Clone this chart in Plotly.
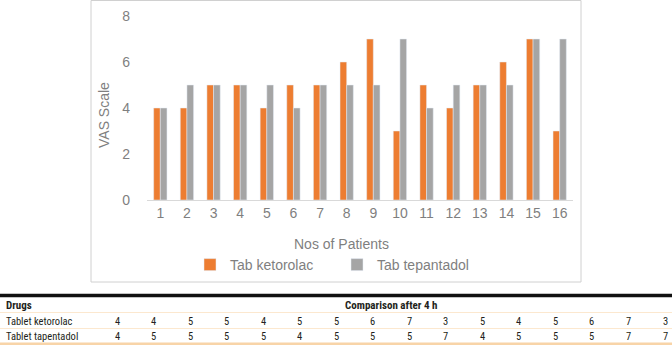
import plotly.graph_objects as go

patients = [str(i) for i in range(1, 17)]
ketorolac = [4, 4, 5, 5, 4, 5, 5, 6, 7, 3, 5, 4, 5, 6, 7, 3]
tapentadol = [4, 5, 5, 5, 5, 4, 5, 5, 5, 7, 4, 5, 5, 5, 7, 7]
series_names = ["Tab ketorolac", "Tab tepantadol"]
row_labels = ["Tablet ketorolac", "Tablet tapentadol"]
table_header = ["Drugs", "Comparison after 4 h"]
x_title = "Nos of Patients"
y_title = "VAS Scale"
y_ticks = [0, 2, 4, 6, 8]

W, H = 672, 345
def px(x):
    return x / W
def py(y):
    return 1 - y / H

ORANGE = "#ED7D31"
GRAY = "#A5A5A5"
TXT = "#7f7f7f"
FONT = "Liberation Sans, Arial, sans-serif"
NARROW = "Liberation Sans Narrow, Roboto Condensed, DejaVu Sans Condensed, sans-serif"
TBL = "#231f20"

fig = go.Figure()
fig.add_trace(go.Bar(x=patients, y=ketorolac, name=series_names[0], marker_color=ORANGE))
fig.add_trace(go.Bar(x=patients, y=tapentadol, name=series_names[1], marker_color=GRAY))

fig.update_layout(
    width=W, height=H,
    margin=dict(l=0, r=0, t=0, b=0, pad=0, autoexpand=False),
    paper_bgcolor="white", plot_bgcolor="white",
    barmode="group", bargap=0.5, bargroupgap=0,
    font=dict(family=FONT, color=TXT, size=14),
    xaxis=dict(domain=[px(147), px(573)], showgrid=False, showline=True, automargin=False,
               linecolor="#d9d9d9", linewidth=1, ticks="", tickfont=dict(size=14, color=TXT),
               anchor="y"),
    yaxis=dict(domain=[py(200), py(16)], range=[0, 8], tickvals=y_ticks, showgrid=False,
               showline=False, zeroline=False, ticks="", tickfont=dict(size=14, color=TXT),
               ticklabelstandoff=16, automargin=False),
    showlegend=True,
    legend=dict(orientation="h", x=px(190), xanchor="left", y=py(265), yanchor="middle",
                font=dict(size=14, color=TXT), itemwidth=30, traceorder="normal",
                entrywidth=102, entrywidthmode="pixels"),
)

# axis titles
fig.add_annotation(text=y_title, x=px(104), y=py(115), xref="paper", yref="paper",
                   xanchor="center", yanchor="middle",
                   textangle=-90, showarrow=False, font=dict(size=14, color=TXT))
fig.add_annotation(text=x_title, x=px(341), y=py(244), xref="paper", yref="paper",
                   xanchor="center", yanchor="middle",
                   showarrow=False, font=dict(size=14, color=TXT))

shapes = []
# chart box border
shapes.append(dict(type="rect", xref="paper", yref="paper", x0=px(91), x1=px(581),
                   y0=py(282), y1=py(0.5), line=dict(color="#d0d0d0", width=1)))
# table lines
shapes.append(dict(type="line", xref="paper", yref="paper", x0=0, x1=1, y0=py(295.5), y1=py(295.5),
                   line=dict(color="#111111", width=3.5)))
shapes.append(dict(type="line", xref="paper", yref="paper", x0=0, x1=1, y0=py(312.5), y1=py(312.5),
                   line=dict(color="#fce8cf", width=1)))
shapes.append(dict(type="line", xref="paper", yref="paper", x0=0, x1=1, y0=py(328.5), y1=py(328.5),
                   line=dict(color="#fce8cf", width=1)))
shapes.append(dict(type="line", xref="paper", yref="paper", x0=0, x1=1, y0=py(344), y1=py(344),
                   line=dict(color="#f8d4a8", width=3)))
fig.update_layout(shapes=shapes)

# table header
fig.add_annotation(text="<b>%s</b>" % table_header[0], x=px(4), y=py(305), xref="paper", yref="paper",
                   xanchor="left", yanchor="middle", showarrow=False,
                   font=dict(family=NARROW, size=11, color=TBL))
fig.add_annotation(text="<b>%s</b>" % table_header[1], x=px(343), y=py(305), xref="paper", yref="paper",
                   xanchor="left", yanchor="middle", showarrow=False,
                   font=dict(family=NARROW, size=11, color=TBL))

col_x = [117 + i * (665 - 117) / 15 for i in range(16)]
for r, (lab, vals) in enumerate(zip(row_labels, [ketorolac, tapentadol])):
    yy = 321 + r * 15
    fig.add_annotation(text=lab, x=px(4), y=py(yy), xref="paper", yref="paper",
                       xanchor="left", yanchor="middle", showarrow=False,
                       font=dict(family=NARROW, size=10.5, color=TBL))
    for i, v in enumerate(vals):
        fig.add_annotation(text=str(v), x=px(col_x[i]), y=py(yy), xref="paper", yref="paper",
                           xanchor="center", yanchor="middle", showarrow=False,
                           font=dict(family=NARROW, size=10.5, color=TBL))

fig.write_html("out.html", config={"displayModeBar": False},
               post_script="document.body.style.margin='0px';document.body.style.overflow='hidden';")
